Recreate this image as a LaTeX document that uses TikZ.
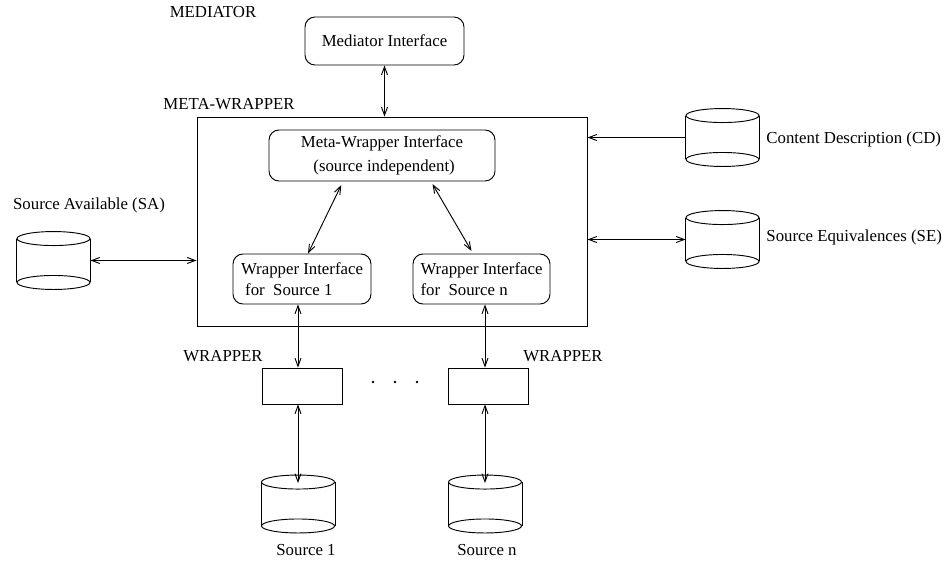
\documentclass[tikz,border=0pt]{standalone}
\usepackage{fontspec}
\setmainfont{Liberation Serif}
\usetikzlibrary{arrows.meta}

\tikzset{
	>={Straight Barb[length=6pt,width=4.5pt]},
	iface/.style={draw,rounded corners=7.5pt,inner sep=0pt},
	wrapbox/.style={draw,inner sep=0pt,minimum width=60pt,minimum height=27pt},
	store/.style={inner sep=0pt,minimum width=54.75pt,minimum height=42.75pt},
	lbl/.style={inner sep=0pt}
}

\begin{document}
\begin{tikzpicture}[x=0.75pt,y=-0.75pt,line width=0.7pt,font=\fontsize{12.6}{16}\selectfont]
	\useasboundingbox (0,0) rectangle (948,562);
	
	\node[lbl] (medlbl) at (213,12) {MEDIATOR};
	\node[lbl] (mwlbl) at (229,104) {META-WRAPPER};
	\node[lbl] (wlbl1) at (223,356) {WRAPPER};
	\node[lbl] (wlbln) at (563,356) {WRAPPER};
	
	\node[iface,minimum width=119.25pt,minimum height=36pt] (med) at (384.5,41) {Mediator Interface};
	\node[draw,inner sep=0pt,minimum width=292.5pt,minimum height=156.75pt] (mw) at (392,221.5) {};
	\node[iface,minimum width=169.5pt,minimum height=38.25pt,align=center] (mwi) at (382,155.5) {Meta-Wrapper Interface\\[2pt]\ (source independent)};
	\node[iface,minimum width=103.5pt,minimum height=37.5pt,align=left] (wi1) at (302,279) {Wrapper Interface\\\ for\ \ Source 1};
	\node[iface,minimum width=102.75pt,minimum height=37.5pt,align=left] (win) at (481.5,279) {Wrapper Interface\\for\ \ Source n};
	
	\node[wrapbox] (w1) at (302,386) {};
	\node[wrapbox] (wn) at (488.5,386) {};
	\foreach \x in {373,395,417}
		\fill (\x,382) circle (1pt);
	
	\node[store] (s1) at (298,504) {};
	\node[store] (sn) at (485,504) {};
	\node[store] (sa) at (53.5,260.5) {};
	\node[store] (cd) at (722.5,137.5) {};
	\node[store] (se) at (722.5,239.5) {};
	\foreach \c in {s1,sn,sa,cd,se}{
		\draw ([yshift=-5.25pt]\c.north west) -- ([yshift=5.25pt]\c.south west)
			([yshift=-5.25pt]\c.north east) -- ([yshift=5.25pt]\c.south east);
		\draw ([yshift=-5.25pt]\c.north) ellipse [x radius=27.375pt,y radius=5.25pt]
			([yshift=5.25pt]\c.south) ellipse [x radius=27.375pt,y radius=5.25pt];
	}
	
	\node[lbl] (s1lbl) at (306,550) {Source 1};
	\node[lbl] (snlbl) at (487,550) {Source n};
	\node[lbl] (salbl) at (89,205) {Source Available (SA)};
	\node[lbl,anchor=west] (cdlbl) at (766,139) {Content Description (CD)};
	\node[lbl,anchor=west] (selbl) at (766,237) {Source Equivalences (SE)};
	
	\draw[<->] (med.south) -- (med.south |- mw.north);
	\draw[<->,shorten <=3pt] ([xshift=-29.25pt]mwi.south) -- ([xshift=4.5pt]wi1.north);
	\draw[<->,shorten <=2.25pt,shorten >=2.25pt] ([xshift=36.75pt]mwi.south) -- ([xshift=-6.4pt]win.north);
	\draw[<->] (wi1.south -| s1) -- (w1.north -| s1);
	\draw[<->] (win.south -| sn) -- (wn.north -| sn);
	\draw[<->] (w1.south -| s1) -- ([yshift=-6pt]s1.north);
	\draw[<->] (wn.south -| sn) -- ([yshift=-6pt]sn.north);
	\draw[<->] (sa.east) -- (sa.east -| mw.west);
	\draw[->] (cd.west) -- (cd.west -| mw.east);
	\draw[<->] (se.west) -- (se.west -| mw.east);
\end{tikzpicture}
\end{document}
